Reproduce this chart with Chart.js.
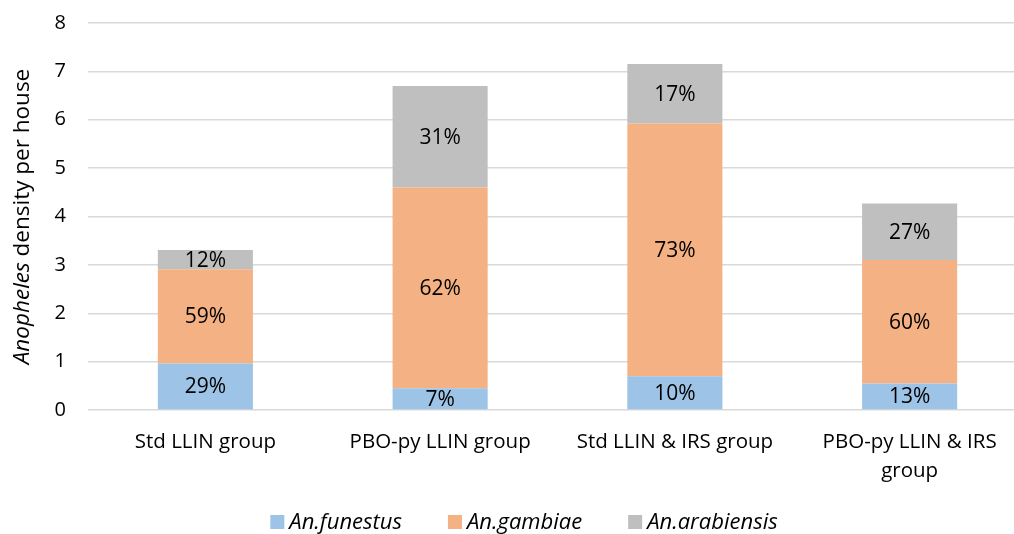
<!DOCTYPE html>
<html>
<head>
<meta charset="utf-8">
<script src="https://cdn.jsdelivr.net/npm/chart.js@4/dist/chart.umd.min.js"></script>
<style>
  html, body { margin: 0; padding: 0; background: #fff; overflow: hidden; }
  #wrap { width: 1014px; height: 534px; overflow: hidden; }
</style>
</head>
<body>
<div id="wrap"><canvas id="chart" width="1048" height="534"></canvas></div>
<script>
// densidad por casa, por grupo y especie
const groups = ['Std LLIN group', 'PBO-py LLIN group', 'Std LLIN & IRS group', ['PBO-py LLIN & IRS', 'group']];
const funestus = [0.96, 0.45, 0.70, 0.55];
const gambiae = [1.95, 4.15, 5.22, 2.55];
const arabiensis = [0.40, 2.10, 1.23, 1.17];
const speciesNames = ['An.funestus', 'An.gambiae', 'An.arabiensis'];
const yTicks = [0, 1, 2, 3, 4, 5, 6, 7, 8];

const FONT = '"Open Sans", "Liberation Sans", sans-serif';
const colors = ['#9DC3E6', '#F4B183', '#BFBFBF'];

// porcentajes dentro de cada segmento
const segmentLabels = {
    id: 'segmentLabels',
    afterDatasetsDraw(chart) {
        const ctx = chart.ctx;
        const sets = chart.data.datasets;
        ctx.save();
        ctx.font = '21px ' + FONT;
        ctx.fillStyle = '#000';
        ctx.textAlign = 'center';
        ctx.textBaseline = 'middle';
        sets.forEach((ds, i) => {
            chart.getDatasetMeta(i).data.forEach((bar, j) => {
                const total = sets.reduce((s, d) => s + d.data[j], 0);
                const pct = Math.round(ds.data[j] / total * 100) + '%';
                ctx.fillText(pct, bar.x, (bar.y + bar.base) / 2 + 1);
            });
        });
        ctx.restore();
    }
};

// título del eje Y con "Anopheles" en cursiva
const yTitle = {
    id: 'yTitle',
    afterDraw(chart) {
        const ctx = chart.ctx;
        const area = chart.chartArea;
        const a = 'Anopheles';
        const b = ' density per house';
        ctx.save();
        ctx.translate(23, (area.top + area.bottom) / 2);
        ctx.rotate(-Math.PI / 2);
        ctx.fillStyle = '#000';
        ctx.textBaseline = 'middle';
        ctx.font = 'italic 22.5px ' + FONT;
        const wa = ctx.measureText(a).width;
        ctx.font = '22.5px ' + FONT;
        const wb = ctx.measureText(b).width;
        let x = -(wa + wb) / 2;
        ctx.font = 'italic 22.5px ' + FONT;
        ctx.fillText(a, x, 0);
        ctx.font = '22.5px ' + FONT;
        ctx.fillText(b, x + wa, 0);
        ctx.restore();
    }
};

// leyenda inferior
const bottomLegend = {
    id: 'bottomLegend',
    afterDraw(chart) {
        const ctx = chart.ctx;
        const sets = chart.data.datasets;
        const box = 14, gap = 5, spacing = 46, y = 522;
        ctx.save();
        ctx.font = 'italic 22px ' + FONT;
        const widths = sets.map(d => ctx.measureText(d.label).width);
        const total = widths.reduce((s, w) => s + box + gap + w, 0) + spacing * (sets.length - 1);
        let x = 524 - total / 2;
        ctx.textBaseline = 'middle';
        sets.forEach((d, i) => {
            ctx.fillStyle = d.backgroundColor;
            ctx.fillRect(x, y - box / 2, box, box);
            ctx.fillStyle = '#000';
            ctx.fillText(d.label, x + box + gap, y + 1);
            x += box + gap + widths[i] + spacing;
        });
        ctx.restore();
    }
};

const ctx = document.getElementById('chart').getContext('2d');
new Chart(ctx, {
    type: 'bar',
    data: {
        labels: groups,
        datasets: [
            { label: speciesNames[0], data: funestus, backgroundColor: colors[0] },
            { label: speciesNames[1], data: gambiae, backgroundColor: colors[1] },
            { label: speciesNames[2], data: arabiensis, backgroundColor: colors[2] }
        ]
    },
    options: {
        responsive: false,
        animation: false,
        layout: { padding: { top: 23, right: 21, left: 0, bottom: 0 } },
        datasets: { bar: { categoryPercentage: 1, barPercentage: 0.405 } },
        plugins: {
            legend: { display: false },
            tooltip: { enabled: false }
        },
        scales: {
            x: {
                stacked: true,
                grid: { display: false, drawTicks: false },
                border: { display: false },
                ticks: {
                    color: '#000',
                    padding: 17,
                    maxRotation: 0,
                    autoSkip: false,
                    font: { family: FONT, size: 20.5, lineHeight: 1.45 }
                },
                afterFit(scale) { scale.height = 124; }
            },
            y: {
                stacked: true,
                min: 0,
                max: 8,
                afterBuildTicks(scale) { scale.ticks = yTicks.map(v => ({ value: v })); },
                // marcas invisibles: solo separan las etiquetas de la cuadrícula
                grid: { color: '#D9D9D9', lineWidth: 1.5, drawTicks: true, tickLength: 22, tickColor: 'rgba(0,0,0,0)' },
                border: { display: false },
                ticks: {
                    color: '#000',
                    padding: 0,
                    font: { family: FONT, size: 20 }
                },
                afterFit(scale) { scale.width = 88; }
            }
        }
    },
    plugins: [segmentLabels, yTitle, bottomLegend]
});
</script>
</body>
</html>
